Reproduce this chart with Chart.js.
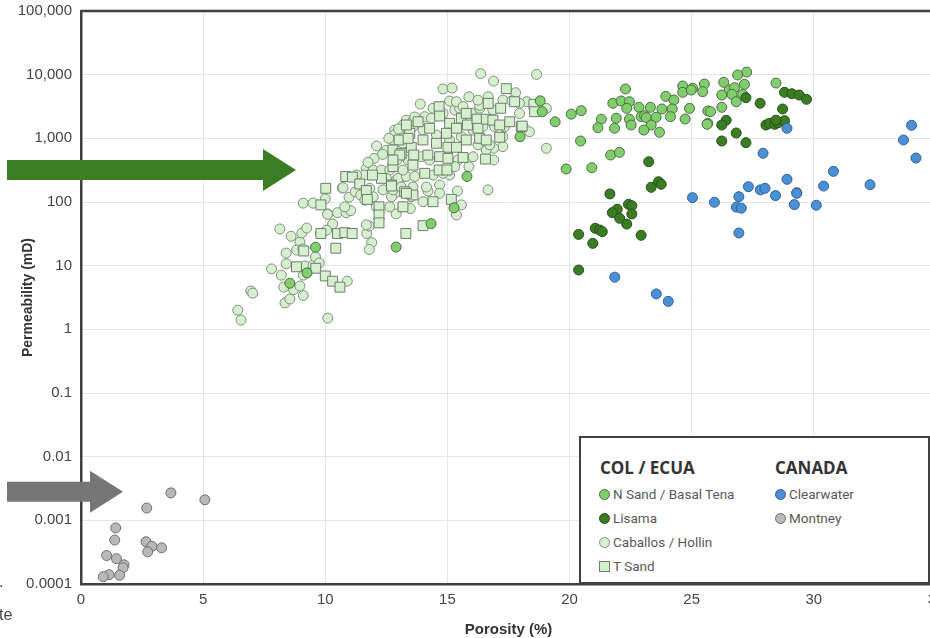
<!DOCTYPE html>
<html>
<head>
<meta charset="utf-8">
<script src="https://cdn.jsdelivr.net/npm/chart.js@4.4.1/dist/chart.umd.min.js"></script>
<style>
  html, body { margin: 0; padding: 0; background: #fff; overflow: hidden; width: 930px; height: 638px; }
  #wrap { position: relative; width: 950px; height: 638px; }
  canvas { position: absolute; left: 0; top: 0; }
  .box { position: absolute; left: 579px; top: 436px; width: 351px; height: 148px; box-sizing: border-box;
         border: 2.5px solid #404040; background: #fff; }
  .head { position: absolute; font: 700 17px "Open Sans", sans-serif; line-height: 1; color: #333; }
  .item { position: absolute; height: 16px; display: flex; align-items: center; gap: 3px;
          font: 13.5px Roboto, sans-serif; color: #595959; white-space: nowrap; }
  .mk { width: 9px; height: 9px; border-radius: 50%; border: 1px solid #555; display: inline-block; }
  .frag { position: absolute; font: 16px "Liberation Sans", Arial, sans-serif; line-height: 1; color: #444; }
</style>
</head>
<body>
<div id="wrap">
  <canvas id="chart" width="950" height="638" style="width:950px;height:638px"></canvas>
  <div class="box"></div>
  <div class="head" style="left:600px;top:459px">COL / ECUA</div>
  <div class="head" style="left:775px;top:459px">CANADA</div>
  <div class="item" style="left:599px;top:486px"><span class="mk" style="background:#80cf6c;border-color:#4f6a48"></span>N Sand / Basal Tena</div>
  <div class="item" style="left:599px;top:510px"><span class="mk" style="background:#3b7d23;border-color:#2a4f1c"></span>Lisama</div>
  <div class="item" style="left:599px;top:534px"><span class="mk" style="background:#d6efcf;border-color:#7f8f7d"></span>Caballos / Hollin</div>
  <div class="item" style="left:599px;top:558px"><span class="mk" style="background:#d6efcf;border-color:#6f7d6d;border-radius:0"></span>T Sand</div>
  <div class="item" style="left:775px;top:486px"><span class="mk" style="background:#4a90d9;border-color:#35618f"></span>Clearwater</div>
  <div class="item" style="left:775px;top:510px"><span class="mk" style="background:#b8b8b8;border-color:#6f6f6f"></span>Montney</div>
  <div class="frag" style="left:-1px;top:574px">.</div>
  <div class="frag" style="left:-1px;top:607px">te</div>
</div>
<script>
// porosity (%) , permeability (mD)
const caballosHollin = [
  [6.42, 2.0], [6.55, 1.4], [6.95, 4.0], [7.03, 3.7], [7.8, 8.9], [8.14, 37.7], [8.2, 7.1], [8.35, 2.6],
  [8.55, 3.0], [8.3, 4.6], [8.7, 4.2], [8.96, 4.8], [9.1, 3.4], [8.4, 15.8], [8.4, 10.7], [8.6, 29],
  [8.96, 23.6], [9.04, 32.6], [9.24, 39], [8.83, 17.6], [9.08, 18.3], [9.1, 7.1], [9.17, 9.9], [9.5, 10.2],
  [9.6, 13.7], [9.75, 11], [10.1, 1.5], [10.9, 5.7], [9.1, 96], [9.5, 96], [10.0, 112], [10.1, 65],
  [10.7, 166], [10.5, 68], [10.85, 68], [10.3, 45], [9.8, 32], [10.05, 36], [11.7, 32], [11.8, 42],
  [11.9, 23], [11.8, 18], [12.9, 65], [10.73, 168], [10.97, 119], [11.23, 145], [11.45, 129], [11.62, 107],
  [11.96, 121], [12.09, 84], [12.64, 84], [13.18, 84], [12.84, 137], [12.36, 155], [11.82, 164], [11.04, 73],
  [10.8, 84], [10.09, 64], [11.68, 43.7], [12.0, 485], [12.5, 650], [13.18, 836], [11.68, 339], [11.96, 318],
  [12.3, 318], [12.64, 318], [11.6, 265], [11.28, 265], [12.5, 235], [12.91, 222], [13.18, 246], [13.28, 1620],
  [16.36, 10400], [16.89, 7940], [18.65, 10100], [14.82, 5960], [15.19, 6170], [13.89, 3460], [15.09, 3850],
  [15.88, 4500], [16.67, 4500], [17.79, 5210], [17.27, 3980], [17.64, 3880], [19.05, 2950], [17.95, 2460],
  [18.1, 1520], [18.36, 1270], [17.27, 742], [16.89, 698], [16.89, 457], [15.88, 359], [16.66, 155],
  [15.57, 90], [15.37, 62.5], [15.41, 149], [14.68, 185], [14.68, 137], [14.0, 101], [14.2, 149], [13.48, 79],
  [12.94, 457], [12.98, 235], [13.32, 252], [12.71, 121], [12.77, 155], [13.11, 172], [13.59, 172], [13.52, 121],
  [14.14, 172], [16.59, 656], [15.43, 457], [15.09, 265], [14.27, 457], [13.93, 515], [13.39, 457], [13.18, 318],
  [13.66, 252], [14.41, 265], [14.82, 282], [15.3, 359], [16.05, 515], [16.25, 791], [16.73, 791], [17.27, 1060],
  [17.34, 1520], [16.93, 1520], [16.45, 1520], [16.05, 1350], [15.57, 1060], [15.09, 942], [14.55, 1130],
  [14.0, 1350], [13.59, 1520], [13.18, 1620], [13.25, 1060], [12.77, 942], [12.84, 1350], [13.32, 1930],
  [13.59, 1880], [14.07, 2190], [14.34, 2070], [14.82, 2470], [15.3, 2780], [15.5, 2970], [15.98, 2470],
  [16.32, 2970], [16.32, 3290], [16.86, 2780], [18.25, 3760], [17.95, 3550], [15.37, 3760], [15.64, 3150],
  [16.25, 3980], [14.41, 2970], [13.66, 2160], [19.05, 698], [12.1, 760], [12.35, 560], [11.75, 420],
  [12.85, 1150], [13.0, 1400], [12.6, 1000]
];
const tSand = [
  [14.66, 3140], [14.68, 2240], [15.09, 1720], [15.57, 2070], [15.77, 2470], [15.82, 1620], [16.21, 2000],
  [16.25, 1440], [16.59, 2000], [16.86, 1930], [17.18, 2970], [17.14, 1620], [17.55, 1820], [18.02, 1520],
  [13.46, 1200], [13.8, 1820], [14.27, 1440], [14.96, 1200], [15.37, 1440], [15.77, 942], [16.32, 1000],
  [16.59, 942], [13.02, 942], [13.52, 723], [14.0, 942], [14.55, 836], [15.02, 723], [15.37, 723], [12.77, 656],
  [13.11, 582], [13.62, 547], [14.2, 547], [14.68, 515], [15.02, 485], [15.64, 500], [12.77, 359], [13.59, 380],
  [14.07, 282], [14.66, 318], [14.98, 318], [12.71, 185], [13.25, 145], [13.59, 129], [14.41, 101], [15.16, 110],
  [13.18, 84], [14.0, 42.5], [13.3, 32], [16.67, 3550], [17.41, 6030], [17.75, 3760], [18.54, 3430],
  [18.57, 2620], [18.06, 1560], [17.14, 1040], [16.56, 473], [10.02, 164], [9.82, 90], [9.12, 17], [8.82, 9.6],
  [9.61, 9.1], [10.0, 6.9], [10.3, 5.7], [10.6, 4.6], [9.82, 32], [10.5, 32], [10.8, 33], [11.1, 32],
  [10.43, 18.8], [10.84, 251], [11.11, 246], [11.41, 192], [11.68, 151], [11.72, 110], [12.2, 84], [12.2, 62.5],
  [12.2, 47], [12.71, 178], [13.05, 547], [13.32, 137], [12.3, 235], [11.93, 265], [12.77, 457], [13.39, 1000],
  [13.32, 1620]
];
const nSandBasalTena = [
  [27.25, 11000], [26.88, 9890], [26.31, 7590], [27.16, 7060], [28.45, 7400], [25.52, 7130], [24.63, 6640],
  [25.04, 6110], [24.63, 5280], [24.98, 5740], [25.45, 5400], [26.54, 5740], [26.75, 6250], [26.23, 4790],
  [26.65, 4900], [27.09, 4900], [26.82, 3760], [26.23, 3070], [23.94, 4570], [24.27, 4000], [22.29, 5960],
  [21.77, 3550], [22.11, 3860], [22.45, 3760], [22.34, 2960], [22.84, 3070], [23.31, 3070], [23.78, 2890],
  [24.2, 2890], [24.91, 2960], [25.66, 2690], [25.77, 2620], [22.93, 2190], [23.07, 2270], [23.14, 2110],
  [23.54, 2140], [24.13, 2190], [24.73, 2010], [25.66, 1720], [22.45, 2000], [22.52, 1620], [21.91, 2070],
  [21.84, 1440], [23.34, 1620], [23.04, 1350], [23.68, 1245], [21.3, 2000], [21.16, 1470], [20.48, 2720],
  [20.07, 2400], [19.41, 1820], [20.45, 908], [21.68, 547], [22.04, 603], [25.63, 1660], [19.86, 330],
  [20.91, 346], [18.8, 3880], [18.88, 2620], [17.97, 1060], [15.8, 252], [15.27, 81], [14.33, 45.7],
  [12.9, 19.6], [9.6, 19.5], [9.25, 7.7], [8.55, 5.3]
];
const lisama = [
  [27.22, 4350], [27.8, 3550], [28.8, 5280], [29.1, 5020], [29.4, 4780], [29.7, 4100], [28.72, 2890],
  [28.04, 1620], [28.18, 1720], [28.4, 1660], [28.53, 1750], [28.8, 1890], [28.45, 1930], [26.41, 1920],
  [26.23, 1620], [26.82, 1213], [26.23, 908], [27.22, 855], [23.24, 430], [23.64, 208], [23.75, 190],
  [23.34, 170], [21.65, 134], [22.41, 92], [22.55, 87.5], [21.95, 77], [21.75, 68], [22.55, 65], [22.05, 55.5],
  [22.34, 45], [22.93, 30], [21.05, 38.6], [21.23, 36.3], [21.34, 34.2], [20.37, 31], [20.95, 22.4], [20.37, 8.55]
];
const clearwater = [
  [33.67, 942], [34.0, 1600], [34.18, 490], [28.9, 1440], [28.9, 227], [29.3, 140], [30.4, 178], [30.8, 303],
  [32.3, 187], [27.92, 582], [27.32, 174], [27.81, 155], [28.0, 164], [28.43, 126], [29.3, 137], [29.2, 91],
  [30.1, 89], [26.93, 121], [26.83, 83], [27.03, 80], [26.93, 32.6], [25.93, 99], [25.03, 117], [21.85, 6.6],
  [23.55, 3.6], [24.04, 2.75]
];
const montney = [
  [3.68, 0.0027], [5.07, 0.0021], [2.69, 0.00156], [1.42, 0.00076], [1.38, 0.00049], [2.66, 0.00046],
  [2.9, 0.00039], [3.3, 0.00037], [2.73, 0.00032], [1.05, 0.00028], [1.45, 0.00025], [1.76, 0.0002],
  [1.72, 0.00018], [1.15, 0.00014], [0.91, 0.00013], [1.58, 0.000137]
];

const yTickValues = [100000, 10000, 1000, 100, 10, 1, 0.1, 0.01, 0.001, 0.0001];
const yTickLabels = ['100,000', '10,000', '1,000', '100', '10', '1', '0.1', '0.01', '0.001', '0.0001'];

// arrow markers: level in mD, tip at porosity
const arrows = [
  { level: 318, tip: 8.8, color: '#3a7d22' },
  { level: 0.0028, tip: 1.72, color: '#767676' }
];

const toPoints = arr => arr.map(p => ({ x: p[0], y: p[1] }));

const series = (label, data, fill, border, order, style) => ({
  label,
  data: toPoints(data),
  backgroundColor: fill,
  borderColor: border,
  borderWidth: 1,
  pointRadius: style === 'rect' ? 7 : 5,
  pointStyle: style || 'circle',
  order
});

const frame = {
  id: 'frame',
  beforeDatasetsDraw(chart) {
    const { ctx, chartArea: a } = chart;
    ctx.save();
    ctx.strokeStyle = '#404040';
    ctx.lineWidth = 2.5;
    ctx.beginPath();
    ctx.moveTo(a.left, a.top);
    ctx.lineTo(a.right, a.top);
    ctx.lineTo(a.right, a.bottom);
    ctx.stroke();
    ctx.restore();
  }
};

const arrowPlugin = {
  id: 'arrows',
  afterDraw(chart) {
    const { ctx, scales } = chart;
    arrows.forEach(a => {
      const cy = scales.y.getPixelForValue(a.level);
      const tip = scales.x.getPixelForValue(a.tip);
      const neck = tip - 33;
      ctx.save();
      ctx.fillStyle = a.color;
      ctx.beginPath();
      ctx.moveTo(7, cy - 10);
      ctx.lineTo(neck, cy - 10);
      ctx.lineTo(neck, cy - 21);
      ctx.lineTo(tip, cy);
      ctx.lineTo(neck, cy + 21);
      ctx.lineTo(neck, cy + 10);
      ctx.lineTo(7, cy + 10);
      ctx.closePath();
      ctx.fill();
      ctx.restore();
    });
  }
};

new Chart(document.getElementById('chart').getContext('2d'), {
  type: 'scatter',
  data: {
    datasets: [
      series('Caballos / Hollin', caballosHollin, '#d6efcf', '#7f8f7d', 6),
      series('T Sand', tSand, '#d6efcf', '#6f7d6d', 5, 'rect'),
      series('N Sand / Basal Tena', nSandBasalTena, '#80cf6c', '#4f6a48', 4),
      series('Lisama', lisama, '#3b7d23', '#2a4f1c', 3),
      series('Clearwater', clearwater, '#4a90d9', '#35618f', 2),
      series('Montney', montney, '#b8b8b8', '#6f6f6f', 1)
    ]
  },
  options: {
    responsive: false,
    animation: false,
    events: [],
    layout: { padding: { top: 11, right: 14, left: 0, bottom: 0 } },
    plugins: { legend: { display: false }, tooltip: { enabled: false } },
    scales: {
      x: {
        type: 'linear',
        min: 0,
        max: 35,
        afterFit(s) { s.height = 54; s.paddingLeft = 0; s.paddingRight = 0; },
        ticks: { stepSize: 5, padding: 7, color: '#444', font: { family: 'Liberation Sans', size: 15 } },
        grid: { color: '#e6e6e6', lineWidth: 1, drawTicks: false },
        border: { color: '#404040', width: 2.5 },
        title: {
          display: true,
          text: 'Porosity (%)',
          color: '#333',
          padding: { top: 0, bottom: 1 },
          font: { family: 'Liberation Sans', size: 15, weight: 'bold', lineHeight: 1 }
        }
      },
      y: {
        type: 'logarithmic',
        min: 0.0001,
        max: 100000,
        afterFit(s) { s.width = 81; s.paddingTop = 0; s.paddingBottom = 0; },
        afterBuildTicks(s) { s.ticks = yTickValues.map(v => ({ value: v })); },
        ticks: {
          padding: 9,
          color: '#444',
          font: { family: 'Liberation Sans', size: 15 },
          callback: (v) => {
            const i = yTickValues.findIndex(t => Math.abs(Math.log10(t) - Math.log10(v)) < 1e-6);
            return i >= 0 ? yTickLabels[i] : '';
          }
        },
        grid: { color: '#e6e6e6', lineWidth: 1, drawTicks: false },
        border: { color: '#404040', width: 2.5 },
        title: {
          display: true,
          text: 'Permeability (mD)',
          color: '#333',
          padding: { top: 20, bottom: 0 },
          font: { family: 'Liberation Sans', size: 14, weight: 'bold' }
        }
      }
    }
  },
  plugins: [frame, arrowPlugin]
});
</script>
</body>
</html>
